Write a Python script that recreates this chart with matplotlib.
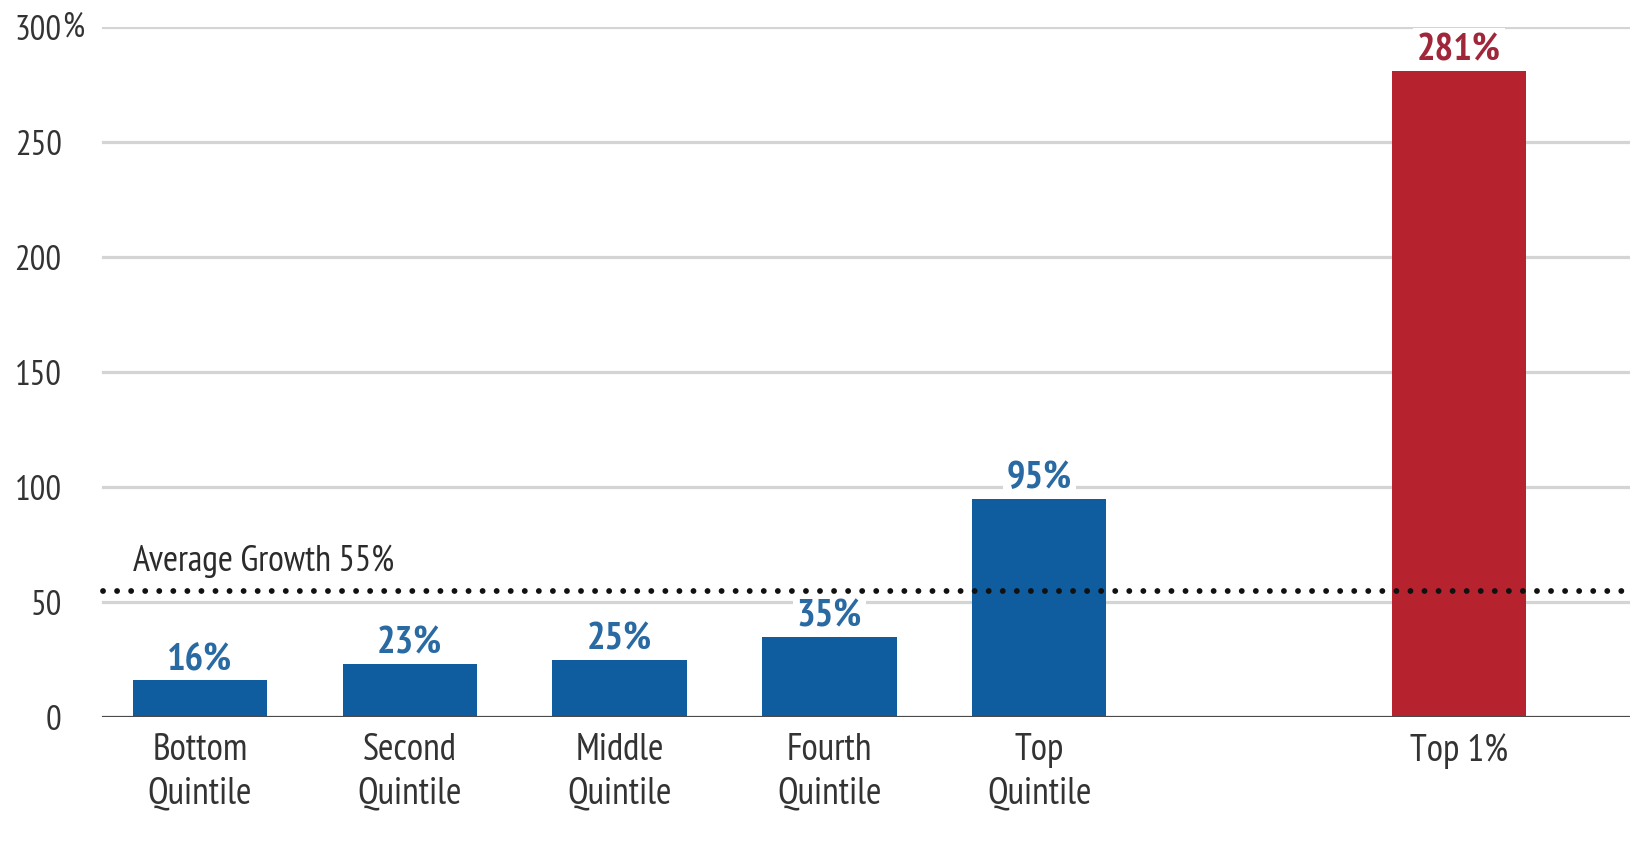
import matplotlib
matplotlib.use("Agg")
import matplotlib.pyplot as plt

plt.rcParams['font.family'] = ['PT Sans Narrow', 'DejaVu Sans']

# datos
categorias = ["Bottom\nQuintile", "Second\nQuintile", "Middle\nQuintile",
              "Fourth\nQuintile", "Top\nQuintile", "Top 1%"]
posiciones = [0, 1, 2, 3, 4, 6]
crecimiento = [16, 23, 25, 35, 95, 281]
promedio = 55
yticks = [0, 50, 100, 150, 200, 250, 300]

azul = '#0f5c9e'
rojo = '#b7222f'
colores = [azul] * 5 + [rojo]
colores_texto = ['#2a6aa3'] * 5 + ['#a0263a']
fs = 25

fig = plt.figure(figsize=(16.31, 8.45), dpi=100)
ax = fig.add_axes([95 / 1631, 1 - 718 / 845, 1 - 95 / 1631, (718 - 28) / 845])

ax.bar(posiciones, crecimiento, width=0.64, color=colores, zorder=3)

# lineas de la cuadricula
for y in yticks[1:]:
    ax.axhline(y, xmin=0.005, color='#d4d4d4', lw=2.3, zorder=1)
ax.axhline(0, xmin=0.005, color='#4a4a4a', lw=2.3, zorder=4)

# linea de promedio
ax.axhline(promedio, xmin=0.005, color='#111111', lw=4.2, linestyle=(0, (0.01, 2.4)),
           dash_capstyle='round', zorder=5)
ax.text(-0.32, promedio + 6, f"Average Growth {promedio}%", fontsize=26,
        color='#2b2b2b', ha='left', va='bottom', zorder=6)

for x, v, c in zip(posiciones, crecimiento, colores_texto):
    ax.annotate(f"{v}%", (x, v), xytext=(0, 15), textcoords='offset points',
                ha='center', va='center', fontsize=28, fontweight='bold', color=c,
                bbox=dict(boxstyle='square,pad=0.1', fc='white', ec='none'),
                zorder=2)

ax.set_xlim(-0.5, 6.82)
ax.set_ylim(0, 300)
ax.set_yticks(yticks)
ax.set_yticklabels([str(t) for t in yticks], fontsize=fs, color='#333333')
ax.set_xticks(posiciones)
ax.set_xticklabels(categorias, fontsize=27, color='#333333', linespacing=1.3)
ax.tick_params(axis='y', length=0, pad=24)
ax.tick_params(axis='x', length=0, pad=11)
ax.annotate("%", (-0.5, 300), xytext=(-24, 0), textcoords='offset points',
            fontsize=fs, color='#333333', ha='left', va='center',
            annotation_clip=False)
for s in ax.spines.values():
    s.set_visible(False)

fig.savefig('out.png', dpi=100)
